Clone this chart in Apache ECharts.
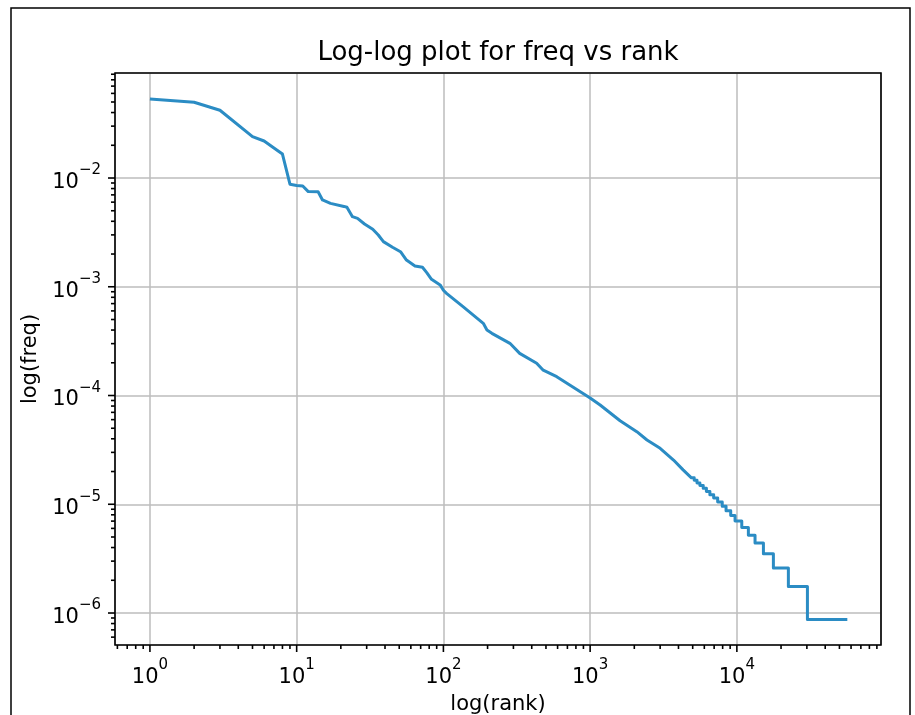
<!DOCTYPE html>
<html><head><meta charset="utf-8">
<script src="https://cdn.jsdelivr.net/npm/echarts@6/dist/echarts.min.js"></script>
<style>html,body{margin:0;padding:0;background:#fff}#c{width:915px;height:715px}</style>
</head><body><div id="c"></div>
<script>
// ---- data ----
const headRanks = [1, 2, 3, 5, 6, 7, 8, 9, 10, 11, 12, 14, 15, 17, 21, 22, 24, 26, 29, 33, 36, 39, 45, 51, 56, 64, 72, 77, 83, 95, 100, 105, 136, 187, 198, 214, 284, 331, 432, 479, 592, 1000, 1170, 1600, 2080, 2440, 3000, 3700, 4300];
const headFreqs = [0.0533, 0.0497, 0.0420, 0.0240, 0.0219, 0.0189, 0.0166, 0.00878, 0.00855, 0.00844, 0.00750, 0.00748, 0.00628, 0.00585, 0.00548, 0.00538, 0.00441, 0.00426, 0.00378, 0.00338, 0.00299, 0.00260, 0.00231, 0.00210, 0.00176, 0.00155, 0.00151, 0.00135, 0.00117, 0.00104, 0.00093, 0.00087, 0.000656, 0.000461, 0.000400, 0.000373, 0.000302, 0.000244, 0.000198, 0.000171, 0.000149, 0.0000950, 0.0000818, 0.0000586, 0.0000465, 0.0000390, 0.0000327, 0.0000255, 0.0000207];
const stepStartRanks = [4900, 5120, 5350, 5600, 5900, 6200, 6550, 6950, 7400, 7950, 8440, 9080, 9720, 10800, 11980, 13300, 15170, 17740, 22440, 30260];
const stepFreqs = [1.75e-5, 1.66e-5, 1.57e-5, 1.49e-5, 1.40e-5, 1.31e-5, 1.22e-5, 1.14e-5, 1.05e-5, 9.6e-6, 8.7e-6, 7.9e-6, 7.0e-6, 6.1e-6, 5.2e-6, 4.4e-6, 3.5e-6, 2.6e-6, 1.75e-6, 8.7e-7];
const lastRank = 56600;

const xMajorTicks = [1, 10, 100, 1000, 10000];
const yMajorTicks = [1e-6, 1e-5, 1e-4, 1e-3, 1e-2];
const xMin = 0.578, xMax = 96000, yMin = 5.08e-7, yMax = 0.0924;

// minor ticks 2..9 x 10^k inside the axis range
function minorTicks(lo, hi, kLo, kHi) {
  const out = [];
  for (let k = kLo; k <= kHi; k++) for (let m = 2; m <= 9; m++) {
    const v = m * Math.pow(10, k);
    if (v > lo && v < hi) out.push(v);
  }
  return out;
}
const xMinorTicks = minorTicks(xMin, xMax, -1, 4);
const yMinorTicks = minorTicks(yMin, yMax, -7, -2);

const lineData = headRanks.map((r, i) => [r, headFreqs[i]]);
stepStartRanks.forEach((r, i) => {
  const end = i + 1 < stepStartRanks.length ? stepStartRanks[i + 1] - 1 : lastRank;
  lineData.push([r, stepFreqs[i]], [end, stepFreqs[i]]);
});

const FONT = 'DejaVu Sans';
function isPow10(v) { const l = Math.log10(v); return Math.abs(l - Math.round(l)) < 1e-6; }
function fmt(v) {
  if (!isPow10(v)) return '';
  const e = Math.round(Math.log10(v));
  return '{b|10}{s|' + (e < 0 ? '\u2212' + (-e) : e) + '}';
}
const rich = {
  b: { fontFamily: FONT, fontSize: 21, lineHeight: 30, verticalAlign: 'bottom', color: '#000' },
  s: { fontFamily: FONT, fontSize: 15, lineHeight: 14, verticalAlign: 'top', color: '#000' }
};

const chart = echarts.init(document.getElementById('c'), null, { renderer: 'canvas' });
chart.setOption({
  animation: false,
  backgroundColor: '#fff',
  title: {
    text: 'Log-log plot for freq vs rank', left: 498, top: 40, textAlign: 'center', padding: 0,
    textStyle: { fontFamily: FONT, fontSize: 26, fontWeight: 'normal', color: '#000' }
  },
  graphic: [{
    type: 'rect', silent: true, z: 100,
    shape: { x: 11, y: 8, width: 899, height: 800 },
    style: { fill: 'none', stroke: '#000', lineWidth: 1.5 }
  }],
  grid: { left: 115, right: 34, top: 73, bottom: 70, containLabel: false, outerBoundsMode: 'none' },
  xAxis: {
    type: 'log', logBase: 10, min: xMin, max: xMax,
    name: 'log(rank)', nameLocation: 'middle', nameGap: 49,
    nameTextStyle: { fontFamily: FONT, fontSize: 21, color: '#000' },
    axisLine: { show: false }, axisTick: { show: false },
    axisLabel: { formatter: fmt, margin: 13, rich: rich, showMinLabel: false, showMaxLabel: false },
    splitLine: { show: true, lineStyle: { color: '#bdbdbd', width: 1.5 } },
    minorTick: { show: false }, minorSplitLine: { show: false }
  },
  yAxis: {
    type: 'log', logBase: 10, min: yMin, max: yMax,
    name: 'log(freq)', nameLocation: 'middle', nameGap: 74,
    nameTextStyle: { fontFamily: FONT, fontSize: 21, color: '#000' },
    axisLine: { show: false }, axisTick: { show: false },
    axisLabel: { formatter: fmt, margin: 14, rich: rich, showMinLabel: false, showMaxLabel: false },
    splitLine: { show: true, lineStyle: { color: '#bdbdbd', width: 1.5 } },
    minorTick: { show: false }, minorSplitLine: { show: false }
  },
  series: [{
    type: 'line', data: lineData, showSymbol: false, symbol: 'none',
    lineStyle: { color: '#2b8cc4', width: 3, join: 'round' }, z: 3
  }, {
    type: 'custom', data: [[1, 1e-3]], clip: false, silent: true, z: 10,
    encode: { x: 0, y: 1 },
    renderItem: function (params, api) {
      const ch = [];
      const st = { stroke: '#000', lineWidth: 1.6 };
      const addX = (v, len) => { const p = api.coord([v, yMin]); ch.push({ type: 'line', shape: { x1: p[0], y1: p[1], x2: p[0], y2: p[1] + len }, style: st }); };
      const addY = (v, len) => { const p = api.coord([xMin, v]); ch.push({ type: 'line', shape: { x1: p[0], y1: p[1], x2: p[0] - len, y2: p[1] }, style: st }); };
      xMajorTicks.forEach(v => addX(v, 7));
      xMinorTicks.forEach(v => addX(v, 4));
      yMajorTicks.forEach(v => addY(v, 7));
      yMinorTicks.forEach(v => addY(v, 4));
      const p0 = api.coord([xMin, yMax]), p1 = api.coord([xMax, yMin]);
      ch.push({ type: 'rect', shape: { x: p0[0], y: p0[1], width: p1[0] - p0[0], height: p1[1] - p0[1] }, style: { fill: 'none', stroke: '#000', lineWidth: 1.6 } });
      return { type: 'group', children: ch };
    }
  }]
});
</script></body></html>
